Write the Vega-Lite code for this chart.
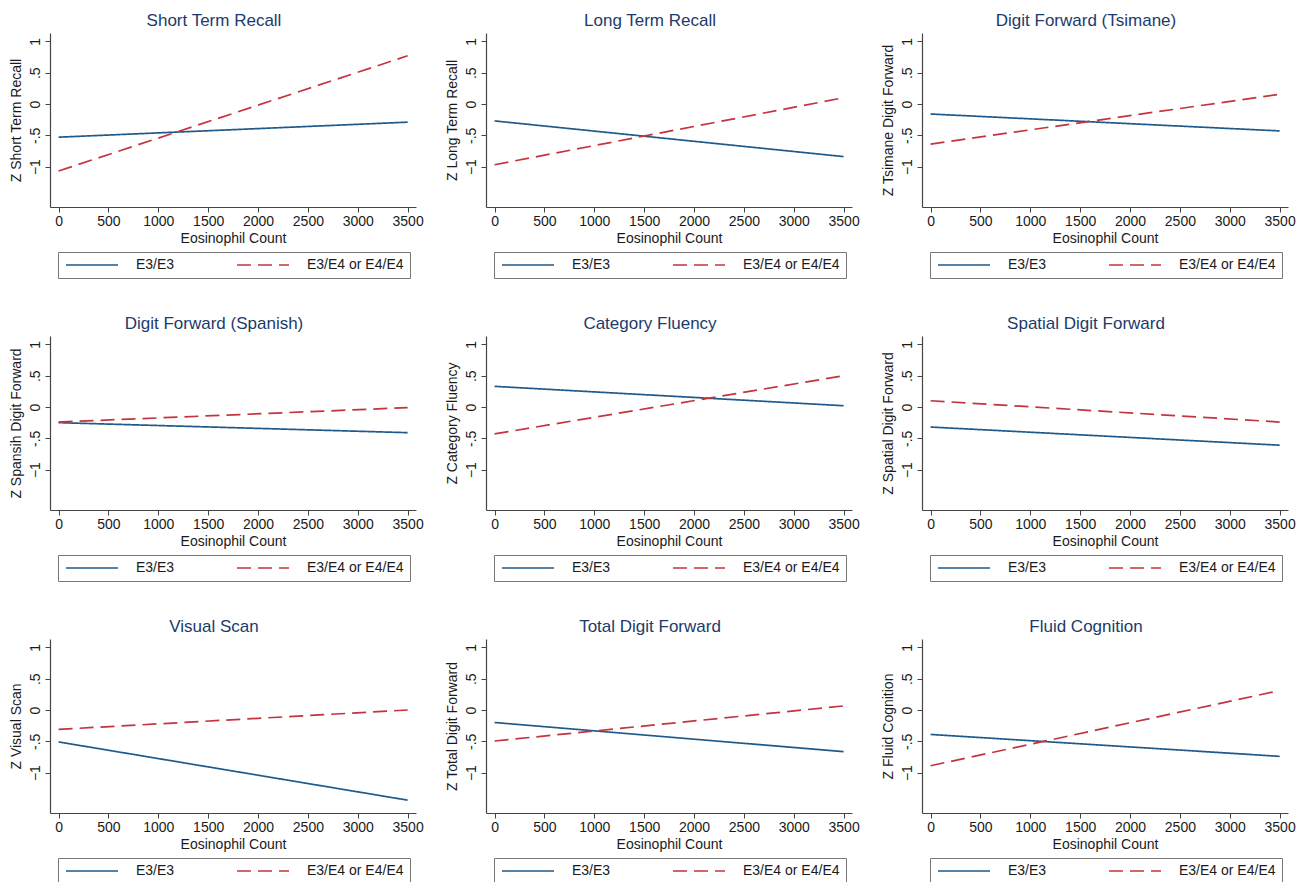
{
  "$schema": "https://vega.github.io/schema/vega-lite/v6.json",
  "background": "white",
  "padding": {"left": 9, "top": 12, "right": 5, "bottom": 5},
  "data": {"values": [
    {"panel": "Short Term Recall", "group": "E3/E3", "x": 0, "y": -0.53},
    {"panel": "Short Term Recall", "group": "E3/E3", "x": 3500, "y": -0.29},
    {"panel": "Short Term Recall", "group": "E3/E4 or E4/E4", "x": 0, "y": -1.07},
    {"panel": "Short Term Recall", "group": "E3/E4 or E4/E4", "x": 3500, "y": 0.77},
    {"panel": "Long Term Recall", "group": "E3/E3", "x": 0, "y": -0.27},
    {"panel": "Long Term Recall", "group": "E3/E3", "x": 3500, "y": -0.84},
    {"panel": "Long Term Recall", "group": "E3/E4 or E4/E4", "x": 0, "y": -0.97},
    {"panel": "Long Term Recall", "group": "E3/E4 or E4/E4", "x": 3500, "y": 0.10},
    {"panel": "Digit Forward (Tsimane)", "group": "E3/E3", "x": 0, "y": -0.16},
    {"panel": "Digit Forward (Tsimane)", "group": "E3/E3", "x": 3500, "y": -0.43},
    {"panel": "Digit Forward (Tsimane)", "group": "E3/E4 or E4/E4", "x": 0, "y": -0.64},
    {"panel": "Digit Forward (Tsimane)", "group": "E3/E4 or E4/E4", "x": 3500, "y": 0.155},
    {"panel": "Digit Forward (Spanish)", "group": "E3/E3", "x": 0, "y": -0.25},
    {"panel": "Digit Forward (Spanish)", "group": "E3/E3", "x": 3500, "y": -0.41},
    {"panel": "Digit Forward (Spanish)", "group": "E3/E4 or E4/E4", "x": 0, "y": -0.24},
    {"panel": "Digit Forward (Spanish)", "group": "E3/E4 or E4/E4", "x": 3500, "y": -0.01},
    {"panel": "Category Fluency", "group": "E3/E3", "x": 0, "y": 0.33},
    {"panel": "Category Fluency", "group": "E3/E3", "x": 3500, "y": 0.02},
    {"panel": "Category Fluency", "group": "E3/E4 or E4/E4", "x": 0, "y": -0.43},
    {"panel": "Category Fluency", "group": "E3/E4 or E4/E4", "x": 3500, "y": 0.50},
    {"panel": "Spatial Digit Forward", "group": "E3/E3", "x": 0, "y": -0.32},
    {"panel": "Spatial Digit Forward", "group": "E3/E3", "x": 3500, "y": -0.61},
    {"panel": "Spatial Digit Forward", "group": "E3/E4 or E4/E4", "x": 0, "y": 0.10},
    {"panel": "Spatial Digit Forward", "group": "E3/E4 or E4/E4", "x": 3500, "y": -0.24},
    {"panel": "Visual Scan", "group": "E3/E3", "x": 0, "y": -0.51},
    {"panel": "Visual Scan", "group": "E3/E3", "x": 3500, "y": -1.44},
    {"panel": "Visual Scan", "group": "E3/E4 or E4/E4", "x": 0, "y": -0.31},
    {"panel": "Visual Scan", "group": "E3/E4 or E4/E4", "x": 3500, "y": 0.0},
    {"panel": "Total Digit Forward", "group": "E3/E3", "x": 0, "y": -0.20},
    {"panel": "Total Digit Forward", "group": "E3/E3", "x": 3500, "y": -0.665},
    {"panel": "Total Digit Forward", "group": "E3/E4 or E4/E4", "x": 0, "y": -0.495},
    {"panel": "Total Digit Forward", "group": "E3/E4 or E4/E4", "x": 3500, "y": 0.065},
    {"panel": "Fluid Cognition", "group": "E3/E3", "x": 0, "y": -0.39},
    {"panel": "Fluid Cognition", "group": "E3/E3", "x": 3500, "y": -0.74},
    {"panel": "Fluid Cognition", "group": "E3/E4 or E4/E4", "x": 0, "y": -0.89},
    {"panel": "Fluid Cognition", "group": "E3/E4 or E4/E4", "x": 3500, "y": 0.31}
  ]},
  "columns": 3,
  "bounds": "flush",
  "spacing": {"row": 129, "column": 70},
  "resolve": {
    "scale": {"color": "independent", "strokeDash": "independent", "x": "independent", "y": "independent"},
    "legend": {"color": "independent", "strokeDash": "independent"}
  },
  "concat": [
    {
      "title": "Short Term Recall",
      "width": 366, "height": 174,
      "transform": [{"filter": "datum.panel == 'Short Term Recall'"}],
      "mark": {"type": "line", "strokeWidth": 1.7},
      "encoding": {
        "x": {"field": "x", "type": "quantitative", "scale": {"domain": [-86, 3584], "nice": false, "zero": false}, "axis": {"values": [0, 500, 1000, 1500, 2000, 2500, 3000, 3500], "format": "d", "title": "Eosinophil Count"}},
        "y": {"field": "y", "type": "quantitative", "scale": {"domain": [-1.645, 1.134], "nice": false, "zero": false}, "axis": {"values": [-1, -0.5, 0, 0.5, 1], "title": "Z Short Term Recall", "labelExpr": "datum.value == 0.5 ? '.5' : datum.value == -0.5 ? '-.5' : format(datum.value, 'd')"}},
        "color": {"field": "group", "type": "nominal", "scale": {"domain": ["E3/E3", "E3/E4 or E4/E4"], "range": ["#1f5a8a", "#c4343e"]}, "legend": {"orient": "none", "legendX": 8, "legendY": 219, "title": null, "direction": "horizontal", "columns": 2}},
        "strokeDash": {"field": "group", "type": "nominal", "scale": {"domain": ["E3/E3", "E3/E4 or E4/E4"], "range": [[1, 0], [14, 7]]}, "legend": {"orient": "none", "legendX": 8, "legendY": 219, "title": null, "direction": "horizontal", "columns": 2}}
      }
    },
    {
      "title": "Long Term Recall",
      "width": 366, "height": 174,
      "transform": [{"filter": "datum.panel == 'Long Term Recall'"}],
      "mark": {"type": "line", "strokeWidth": 1.7},
      "encoding": {
        "x": {"field": "x", "type": "quantitative", "scale": {"domain": [-86, 3584], "nice": false, "zero": false}, "axis": {"values": [0, 500, 1000, 1500, 2000, 2500, 3000, 3500], "format": "d", "title": "Eosinophil Count"}},
        "y": {"field": "y", "type": "quantitative", "scale": {"domain": [-1.645, 1.134], "nice": false, "zero": false}, "axis": {"values": [-1, -0.5, 0, 0.5, 1], "title": "Z Long Term Recall", "labelExpr": "datum.value == 0.5 ? '.5' : datum.value == -0.5 ? '-.5' : format(datum.value, 'd')"}},
        "color": {"field": "group", "type": "nominal", "scale": {"domain": ["E3/E3", "E3/E4 or E4/E4"], "range": ["#1f5a8a", "#c4343e"]}, "legend": {"orient": "none", "legendX": 8, "legendY": 219, "title": null, "direction": "horizontal", "columns": 2}},
        "strokeDash": {"field": "group", "type": "nominal", "scale": {"domain": ["E3/E3", "E3/E4 or E4/E4"], "range": [[1, 0], [14, 7]]}, "legend": {"orient": "none", "legendX": 8, "legendY": 219, "title": null, "direction": "horizontal", "columns": 2}}
      }
    },
    {
      "title": "Digit Forward (Tsimane)",
      "width": 366, "height": 174,
      "transform": [{"filter": "datum.panel == 'Digit Forward (Tsimane)'"}],
      "mark": {"type": "line", "strokeWidth": 1.7},
      "encoding": {
        "x": {"field": "x", "type": "quantitative", "scale": {"domain": [-86, 3584], "nice": false, "zero": false}, "axis": {"values": [0, 500, 1000, 1500, 2000, 2500, 3000, 3500], "format": "d", "title": "Eosinophil Count"}},
        "y": {"field": "y", "type": "quantitative", "scale": {"domain": [-1.645, 1.134], "nice": false, "zero": false}, "axis": {"values": [-1, -0.5, 0, 0.5, 1], "title": "Z Tsimane Digit Forward", "labelExpr": "datum.value == 0.5 ? '.5' : datum.value == -0.5 ? '-.5' : format(datum.value, 'd')"}},
        "color": {"field": "group", "type": "nominal", "scale": {"domain": ["E3/E3", "E3/E4 or E4/E4"], "range": ["#1f5a8a", "#c4343e"]}, "legend": {"orient": "none", "legendX": 8, "legendY": 219, "title": null, "direction": "horizontal", "columns": 2}},
        "strokeDash": {"field": "group", "type": "nominal", "scale": {"domain": ["E3/E3", "E3/E4 or E4/E4"], "range": [[1, 0], [14, 7]]}, "legend": {"orient": "none", "legendX": 8, "legendY": 219, "title": null, "direction": "horizontal", "columns": 2}}
      }
    },
    {
      "title": "Digit Forward (Spanish)",
      "width": 366, "height": 174,
      "transform": [{"filter": "datum.panel == 'Digit Forward (Spanish)'"}],
      "mark": {"type": "line", "strokeWidth": 1.7},
      "encoding": {
        "x": {"field": "x", "type": "quantitative", "scale": {"domain": [-86, 3584], "nice": false, "zero": false}, "axis": {"values": [0, 500, 1000, 1500, 2000, 2500, 3000, 3500], "format": "d", "title": "Eosinophil Count"}},
        "y": {"field": "y", "type": "quantitative", "scale": {"domain": [-1.645, 1.134], "nice": false, "zero": false}, "axis": {"values": [-1, -0.5, 0, 0.5, 1], "title": "Z Spansih Digit Forward", "labelExpr": "datum.value == 0.5 ? '.5' : datum.value == -0.5 ? '-.5' : format(datum.value, 'd')"}},
        "color": {"field": "group", "type": "nominal", "scale": {"domain": ["E3/E3", "E3/E4 or E4/E4"], "range": ["#1f5a8a", "#c4343e"]}, "legend": {"orient": "none", "legendX": 8, "legendY": 219, "title": null, "direction": "horizontal", "columns": 2}},
        "strokeDash": {"field": "group", "type": "nominal", "scale": {"domain": ["E3/E3", "E3/E4 or E4/E4"], "range": [[1, 0], [14, 7]]}, "legend": {"orient": "none", "legendX": 8, "legendY": 219, "title": null, "direction": "horizontal", "columns": 2}}
      }
    },
    {
      "title": "Category Fluency",
      "width": 366, "height": 174,
      "transform": [{"filter": "datum.panel == 'Category Fluency'"}],
      "mark": {"type": "line", "strokeWidth": 1.7},
      "encoding": {
        "x": {"field": "x", "type": "quantitative", "scale": {"domain": [-86, 3584], "nice": false, "zero": false}, "axis": {"values": [0, 500, 1000, 1500, 2000, 2500, 3000, 3500], "format": "d", "title": "Eosinophil Count"}},
        "y": {"field": "y", "type": "quantitative", "scale": {"domain": [-1.645, 1.134], "nice": false, "zero": false}, "axis": {"values": [-1, -0.5, 0, 0.5, 1], "title": "Z Category Fluency", "labelExpr": "datum.value == 0.5 ? '.5' : datum.value == -0.5 ? '-.5' : format(datum.value, 'd')"}},
        "color": {"field": "group", "type": "nominal", "scale": {"domain": ["E3/E3", "E3/E4 or E4/E4"], "range": ["#1f5a8a", "#c4343e"]}, "legend": {"orient": "none", "legendX": 8, "legendY": 219, "title": null, "direction": "horizontal", "columns": 2}},
        "strokeDash": {"field": "group", "type": "nominal", "scale": {"domain": ["E3/E3", "E3/E4 or E4/E4"], "range": [[1, 0], [14, 7]]}, "legend": {"orient": "none", "legendX": 8, "legendY": 219, "title": null, "direction": "horizontal", "columns": 2}}
      }
    },
    {
      "title": "Spatial Digit Forward",
      "width": 366, "height": 174,
      "transform": [{"filter": "datum.panel == 'Spatial Digit Forward'"}],
      "mark": {"type": "line", "strokeWidth": 1.7},
      "encoding": {
        "x": {"field": "x", "type": "quantitative", "scale": {"domain": [-86, 3584], "nice": false, "zero": false}, "axis": {"values": [0, 500, 1000, 1500, 2000, 2500, 3000, 3500], "format": "d", "title": "Eosinophil Count"}},
        "y": {"field": "y", "type": "quantitative", "scale": {"domain": [-1.645, 1.134], "nice": false, "zero": false}, "axis": {"values": [-1, -0.5, 0, 0.5, 1], "title": "Z Spatial Digit Forward", "labelExpr": "datum.value == 0.5 ? '.5' : datum.value == -0.5 ? '-.5' : format(datum.value, 'd')"}},
        "color": {"field": "group", "type": "nominal", "scale": {"domain": ["E3/E3", "E3/E4 or E4/E4"], "range": ["#1f5a8a", "#c4343e"]}, "legend": {"orient": "none", "legendX": 8, "legendY": 219, "title": null, "direction": "horizontal", "columns": 2}},
        "strokeDash": {"field": "group", "type": "nominal", "scale": {"domain": ["E3/E3", "E3/E4 or E4/E4"], "range": [[1, 0], [14, 7]]}, "legend": {"orient": "none", "legendX": 8, "legendY": 219, "title": null, "direction": "horizontal", "columns": 2}}
      }
    },
    {
      "title": "Visual Scan",
      "width": 366, "height": 174,
      "transform": [{"filter": "datum.panel == 'Visual Scan'"}],
      "mark": {"type": "line", "strokeWidth": 1.7},
      "encoding": {
        "x": {"field": "x", "type": "quantitative", "scale": {"domain": [-86, 3584], "nice": false, "zero": false}, "axis": {"values": [0, 500, 1000, 1500, 2000, 2500, 3000, 3500], "format": "d", "title": "Eosinophil Count"}},
        "y": {"field": "y", "type": "quantitative", "scale": {"domain": [-1.645, 1.134], "nice": false, "zero": false}, "axis": {"values": [-1, -0.5, 0, 0.5, 1], "title": "Z Visual Scan", "labelExpr": "datum.value == 0.5 ? '.5' : datum.value == -0.5 ? '-.5' : format(datum.value, 'd')"}},
        "color": {"field": "group", "type": "nominal", "scale": {"domain": ["E3/E3", "E3/E4 or E4/E4"], "range": ["#1f5a8a", "#c4343e"]}, "legend": {"orient": "none", "legendX": 8, "legendY": 219, "title": null, "direction": "horizontal", "columns": 2}},
        "strokeDash": {"field": "group", "type": "nominal", "scale": {"domain": ["E3/E3", "E3/E4 or E4/E4"], "range": [[1, 0], [14, 7]]}, "legend": {"orient": "none", "legendX": 8, "legendY": 219, "title": null, "direction": "horizontal", "columns": 2}}
      }
    },
    {
      "title": "Total Digit Forward",
      "width": 366, "height": 174,
      "transform": [{"filter": "datum.panel == 'Total Digit Forward'"}],
      "mark": {"type": "line", "strokeWidth": 1.7},
      "encoding": {
        "x": {"field": "x", "type": "quantitative", "scale": {"domain": [-86, 3584], "nice": false, "zero": false}, "axis": {"values": [0, 500, 1000, 1500, 2000, 2500, 3000, 3500], "format": "d", "title": "Eosinophil Count"}},
        "y": {"field": "y", "type": "quantitative", "scale": {"domain": [-1.645, 1.134], "nice": false, "zero": false}, "axis": {"values": [-1, -0.5, 0, 0.5, 1], "title": "Z Total Digit Forward", "labelExpr": "datum.value == 0.5 ? '.5' : datum.value == -0.5 ? '-.5' : format(datum.value, 'd')"}},
        "color": {"field": "group", "type": "nominal", "scale": {"domain": ["E3/E3", "E3/E4 or E4/E4"], "range": ["#1f5a8a", "#c4343e"]}, "legend": {"orient": "none", "legendX": 8, "legendY": 219, "title": null, "direction": "horizontal", "columns": 2}},
        "strokeDash": {"field": "group", "type": "nominal", "scale": {"domain": ["E3/E3", "E3/E4 or E4/E4"], "range": [[1, 0], [14, 7]]}, "legend": {"orient": "none", "legendX": 8, "legendY": 219, "title": null, "direction": "horizontal", "columns": 2}}
      }
    },
    {
      "title": "Fluid Cognition",
      "width": 366, "height": 174,
      "transform": [{"filter": "datum.panel == 'Fluid Cognition'"}],
      "mark": {"type": "line", "strokeWidth": 1.7},
      "encoding": {
        "x": {"field": "x", "type": "quantitative", "scale": {"domain": [-86, 3584], "nice": false, "zero": false}, "axis": {"values": [0, 500, 1000, 1500, 2000, 2500, 3000, 3500], "format": "d", "title": "Eosinophil Count"}},
        "y": {"field": "y", "type": "quantitative", "scale": {"domain": [-1.645, 1.134], "nice": false, "zero": false}, "axis": {"values": [-1, -0.5, 0, 0.5, 1], "title": "Z Fluid Cognition", "labelExpr": "datum.value == 0.5 ? '.5' : datum.value == -0.5 ? '-.5' : format(datum.value, 'd')"}},
        "color": {"field": "group", "type": "nominal", "scale": {"domain": ["E3/E3", "E3/E4 or E4/E4"], "range": ["#1f5a8a", "#c4343e"]}, "legend": {"orient": "none", "legendX": 8, "legendY": 219, "title": null, "direction": "horizontal", "columns": 2}},
        "strokeDash": {"field": "group", "type": "nominal", "scale": {"domain": ["E3/E3", "E3/E4 or E4/E4"], "range": [[1, 0], [14, 7]]}, "legend": {"orient": "none", "legendX": 8, "legendY": 219, "title": null, "direction": "horizontal", "columns": 2}}
      }
    }
  ],
  "config": {
    "font": "Liberation Sans",
    "view": {"stroke": null},
    "title": {"font": "Liberation Sans", "fontSize": 17, "fontWeight": "normal", "color": "#1c3b6b", "anchor": "middle", "baseline": "alphabetic", "offset": 3, "dx": -19},
    "axis": {"grid": false, "domainColor": "#444444", "tickColor": "#444444", "domainWidth": 1.2, "tickWidth": 1, "tickSize": 5, "labelFont": "Liberation Sans", "labelFontSize": 14, "labelColor": "#1a1a1a", "titleFont": "Liberation Sans", "titleFontSize": 14, "titleFontWeight": "normal", "titleColor": "#1a1a1a", "labelFlush": false, "labelOverlap": false},
    "axisX": {"labelPadding": 2, "titlePadding": 3},
    "axisY": {"labelAngle": 270, "labelPadding": 3, "titlePadding": 5},
    "legend": {"strokeColor": "#777777", "padding": 6, "symbolType": "M-1,0H9.4", "symbolSize": 100, "symbolStrokeWidth": 1.7, "labelFont": "Liberation Sans", "labelFontSize": 14, "labelColor": "#1a1a1a", "labelOffset": 58, "columnPadding": 0, "gridAlign": "all", "fillColor": "white"}
  }
}
